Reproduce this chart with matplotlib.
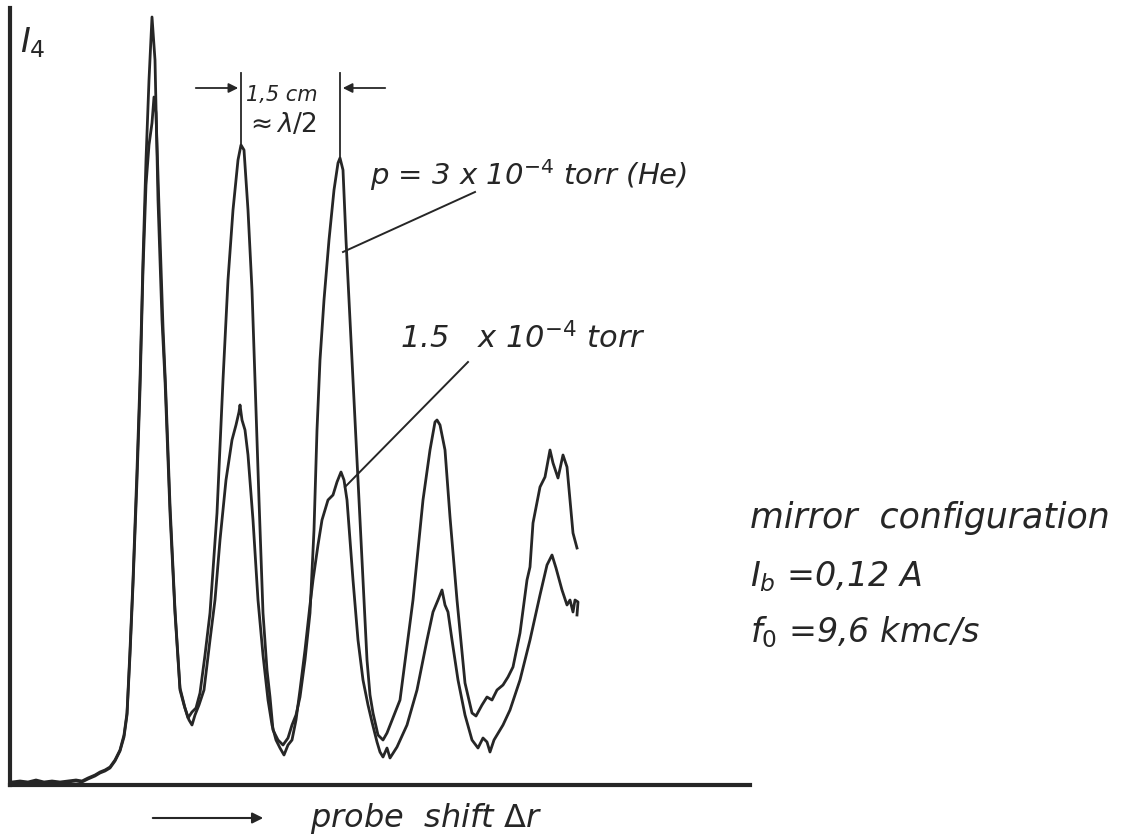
import numpy as np
import matplotlib.pyplot as plt

# probe shift (arbitrary units) and probe signal I4 (arbitrary units)
x_3e4 = [2, 10, 18, 26, 34, 42, 50, 58, 66, 72, 78, 85, 90, 95, 100, 105, 110, 114, 117, 120,
         123, 127, 130, 133, 136, 139, 142, 145, 148, 152, 155, 160, 165, 170, 174, 178, 182, 186,
         190, 195, 200, 207, 213, 218, 223, 228, 231, 234, 238, 242, 245, 249, 253, 257, 260, 263,
         268, 273, 278, 282, 286, 290, 295, 300, 304, 307, 310, 314, 319, 324, 328, 330, 333, 336,
         340, 344, 347, 350, 353, 357, 360, 363, 368, 373, 377, 390, 403, 413, 420, 425, 427, 430,
         435, 440, 447, 455, 462, 466, 472, 477, 482, 487, 493, 498, 503, 510, 517, 520, 523, 530,
         535, 540, 543, 548, 553, 557, 560, 563, 567]
y_3e4 = [3, 4, 3, 5, 3, 4, 3, 4, 5, 4, 7, 10, 13, 15, 18, 25, 35, 50, 72, 135,
         205, 315, 405, 525, 625, 705, 768, 725, 585, 465, 405, 272, 172, 95, 80, 67, 73, 77,
         92, 130, 172, 272, 405, 505, 575, 625, 640, 635, 575, 495, 405, 285, 172, 115, 88, 55,
         45, 40, 47, 60, 70, 88, 125, 172, 255, 355, 425, 485, 545, 595, 622, 627, 615, 545,
         465, 385, 325, 265, 205, 125, 90, 72, 50, 45, 52, 85, 185, 285, 335, 363, 365, 360,
         335, 268, 185, 102, 72, 69, 80, 88, 85, 95, 100, 108, 118, 152, 205, 218, 262, 298,
         308, 335, 322, 307, 330, 318, 285, 252, 237]

x_15e4 = [2, 10, 18, 26, 34, 42, 50, 58, 66, 72, 78, 85, 90, 95, 100, 105, 110, 114, 117, 120,
          123, 127, 130, 133, 136, 139, 142, 144, 146, 149, 153, 156, 160, 165, 170, 175, 179, 182,
          185, 189, 194, 200, 205, 210, 216, 222, 226, 229, 230, 232, 235, 238, 243, 248, 253, 258,
          262, 266, 270, 274, 278, 282, 286, 290, 295, 300, 303, 308, 312, 318, 323, 327, 331, 334,
          337, 340, 343, 348, 353, 358, 362, 367, 370, 373, 377, 380, 387, 397, 407, 417, 423, 428,
          432, 435, 438, 442, 448, 455, 462, 468, 473, 477, 480, 484, 487, 493, 500, 510, 520, 530,
          537, 542, 546, 552, 557, 560, 563, 565, 568, 567]
y_15e4 = [2, 3, 2, 3, 2, 3, 2, 3, 4, 3, 6, 9, 12, 14, 17, 24, 34, 48, 70, 130,
          200, 305, 395, 515, 600, 640, 662, 688, 672, 578, 458, 388, 280, 175, 97, 77, 65, 60,
          70, 80, 95, 145, 185, 245, 305, 345, 360, 373, 380, 365, 355, 330, 265, 185, 130, 85,
          60, 45, 37, 30, 40, 45, 65, 95, 135, 180, 205, 240, 265, 285, 290, 303, 313, 305,
          285, 245, 205, 145, 105, 80, 63, 43, 33, 28, 37, 27, 38, 60, 95, 145, 173, 185,
          195, 180, 173, 145, 105, 70, 45, 37, 47, 43, 33, 45, 50, 60, 75, 105, 145, 190,
          220, 230, 217, 195, 180, 185, 173, 185, 183, 170]

ink = '#262626'

fig = plt.figure(figsize=(11.31, 8.39), dpi=100)
ax = fig.add_axes([10 / 1131, 54 / 839, 740 / 1131, 777 / 839])
ax.plot(x_3e4, y_3e4, color=ink, lw=2.0)
ax.plot(x_15e4, y_15e4, color=ink, lw=2.0)
ax.set_xlim(0, 740)
ax.set_ylim(0, 777)
ax.set_xticks([])
ax.set_yticks([])
for s in ['top', 'right']:
    ax.spines[s].set_visible(False)
for s in ['left', 'bottom']:
    ax.spines[s].set_linewidth(3)
    ax.spines[s].set_color(ink)

# half-wavelength marker between the 2nd and 3rd maxima of the 3e-4 trace
xa = np.array(x_3e4)
ya = np.array(y_3e4)
m2 = (xa > 200) & (xa < 280)
m3 = (xa > 300) & (xa < 370)
p2x, p2y = xa[m2][ya[m2].argmax()], ya[m2].max()
p3x, p3y = xa[m3][ya[m3].argmax()], ya[m3].max()
ax.plot([p2x, p2x], [p2y, 712], color=ink, lw=1.3)
ax.plot([p3x, p3x], [p3y, 712], color=ink, lw=1.3)
ax.annotate('', xy=(p2x, 697), xytext=(p2x - 48, 697),
            arrowprops=dict(arrowstyle='-|>', color=ink, lw=1.3, mutation_scale=14))
ax.annotate('', xy=(p3x, 697), xytext=(p3x + 48, 697),
            arrowprops=dict(arrowstyle='-|>', color=ink, lw=1.3, mutation_scale=14))
ax.text(p2x + 5, 690, '1,5 cm', fontsize=15, style='italic', color=ink, va='center')
ax.text(p2x + 4, 660, r'$\approx\lambda/2$', fontsize=19, color=ink, va='center')

ax.text(10, 742, '$I_4$', fontsize=24, color=ink, va='center')

ax.text(360, 610, r'p = 3 x 10$^{-4}$ torr (He)', fontsize=21, style='italic',
        color=ink, va='center')
ax.plot([465, 333], [593, 533], color=ink, lw=1.4)
ax.text(390, 447, r'1.5   x 10$^{-4}$ torr', fontsize=22, style='italic',
        color=ink, va='center')
ax.plot([458, 335], [423, 298], color=ink, lw=1.4)

fig.text(750 / 1131, 1 - 518 / 839, 'mirror  configuration', fontsize=25, style='italic',
         color=ink, va='center')
fig.text(750 / 1131, 1 - 577 / 839, r'$I_b$ =0,12 A', fontsize=24, style='italic',
         color=ink, va='center')
fig.text(750 / 1131, 1 - 632 / 839, r'$f_0$ =9,6 kmc/s', fontsize=24, style='italic',
         color=ink, va='center')

fig.text(310 / 1131, 1 - 818 / 839, r'probe  shift $\Delta$r', fontsize=23, style='italic',
         color=ink, va='center')
fig.patches.append(plt.matplotlib.patches.FancyArrowPatch(
    (150 / 1131, 1 - 818 / 839), (266 / 1131, 1 - 818 / 839), transform=fig.transFigure,
    arrowstyle='-|>', mutation_scale=16, color=ink, lw=1.5))

fig.savefig('out.png', dpi=100)
